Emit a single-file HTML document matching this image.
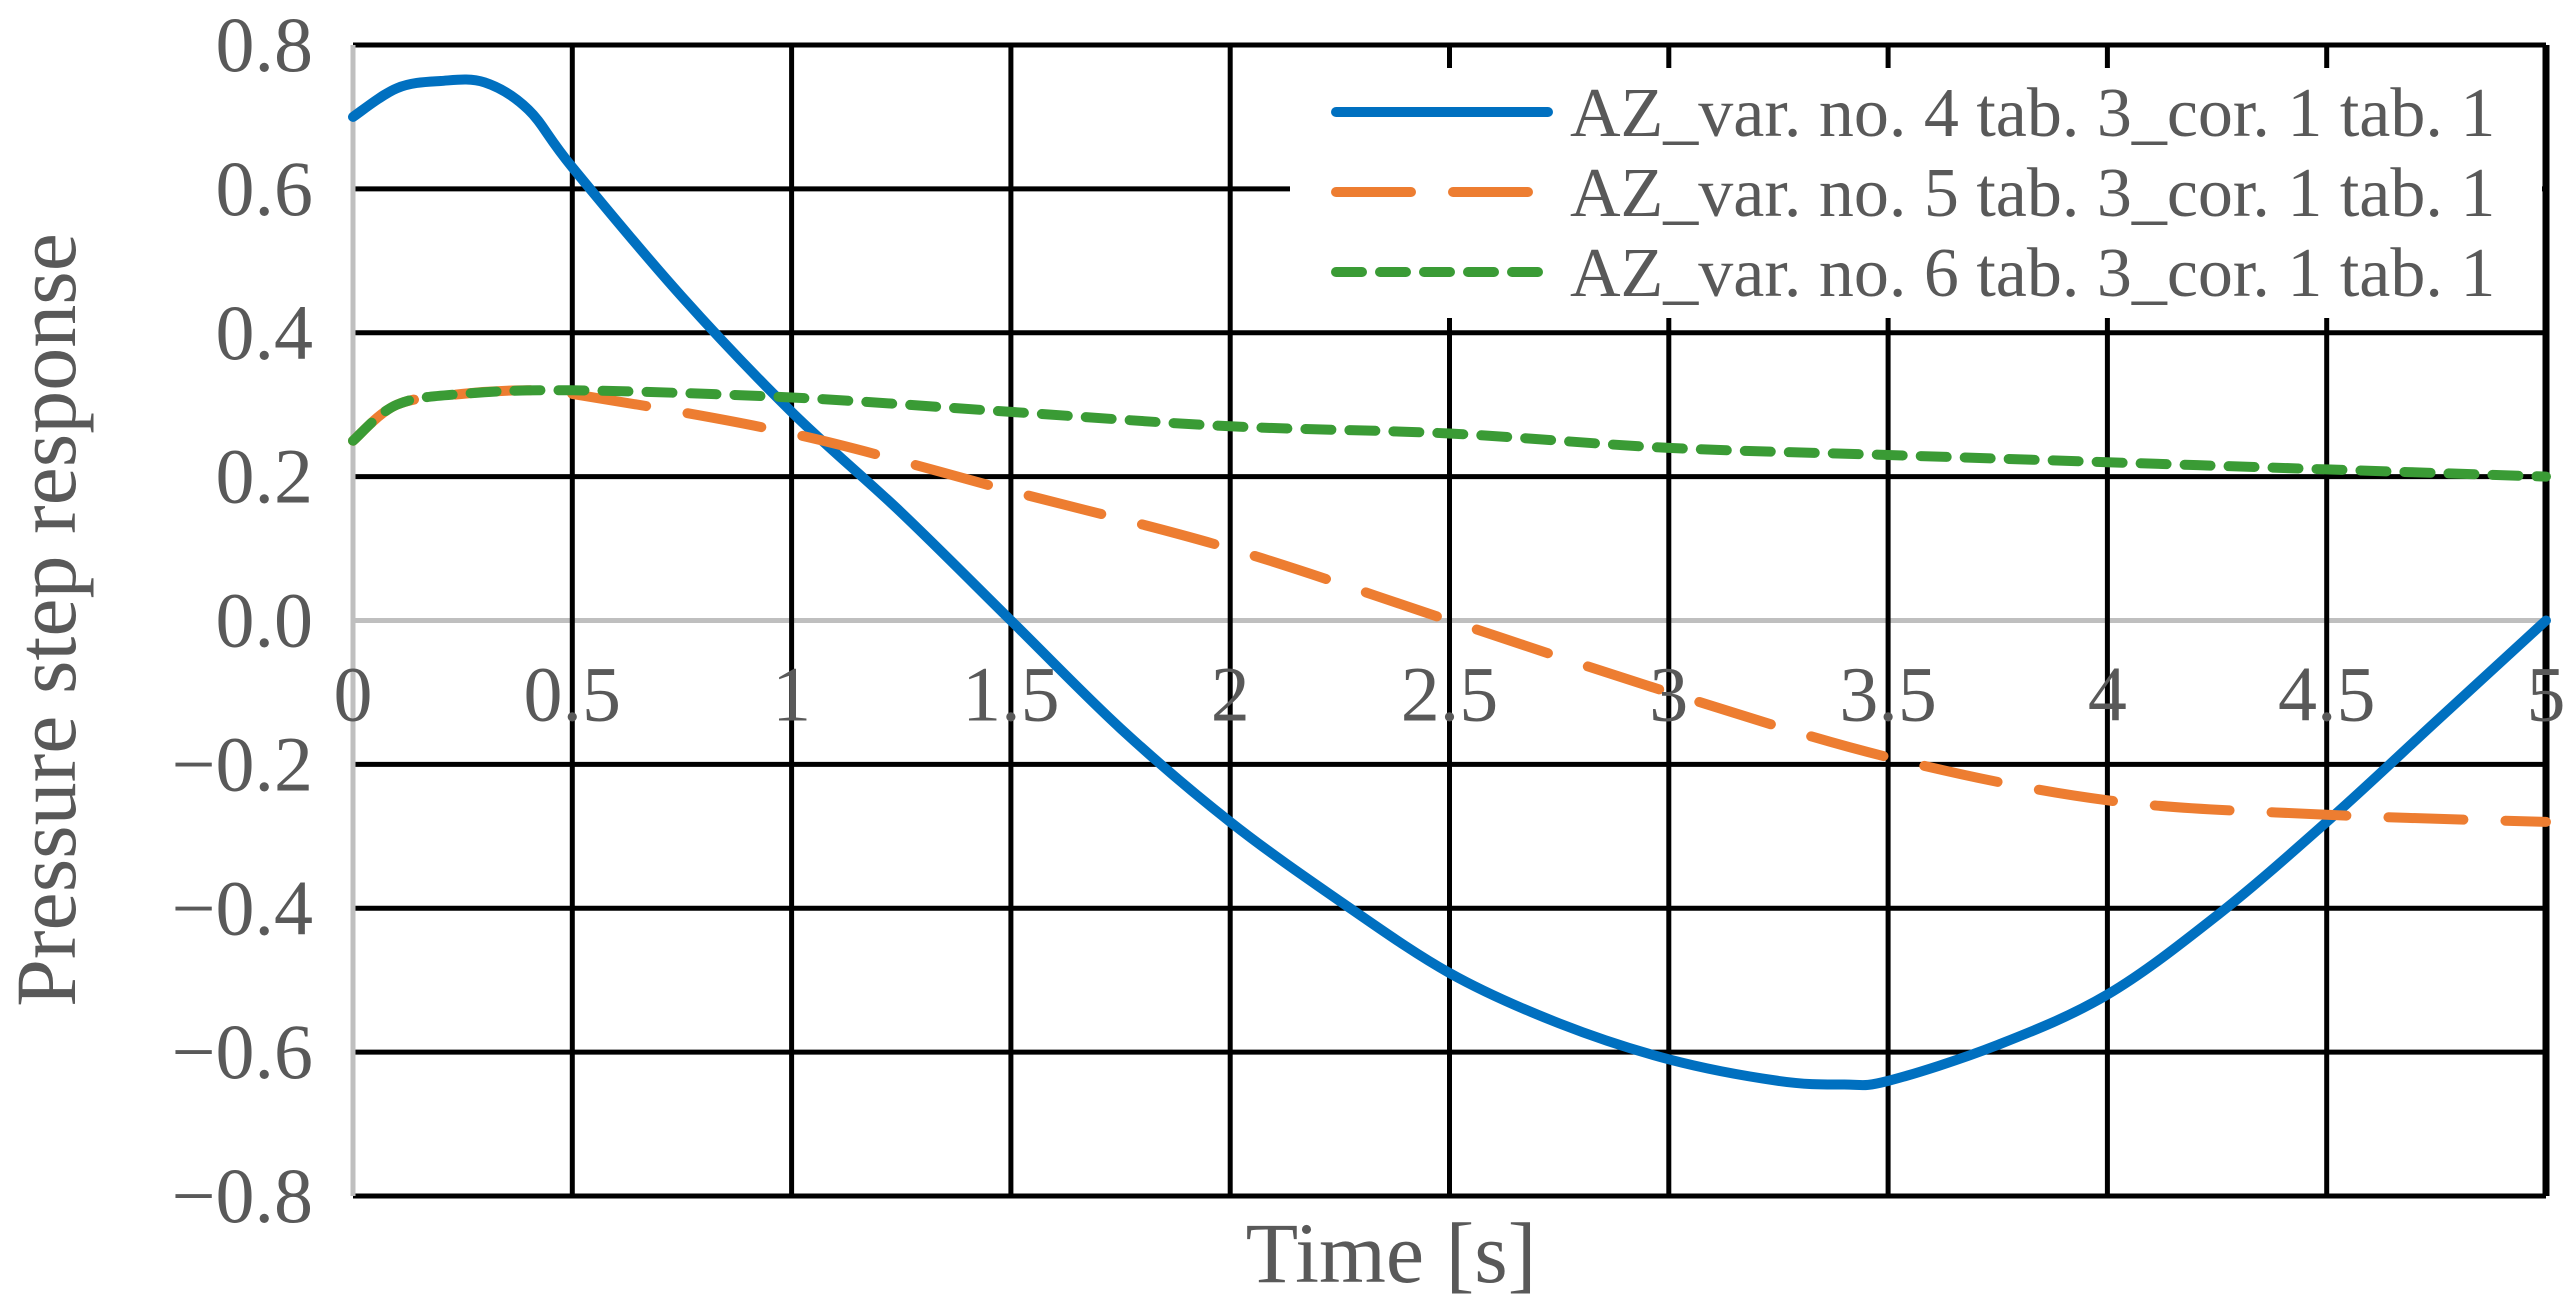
<!DOCTYPE html>
<html><head><meta charset="utf-8"><style>
html,body{margin:0;padding:0;background:#fff;}
svg{display:block;}
text{font-family:"Liberation Serif",serif;fill:#595959;}
</style></head><body>
<svg id="chart" width="2572" height="1311" viewBox="0 0 2572 1311">
<g id="grid"></g>
<g id="series"></g>
<g id="ticks"></g>
<g id="legend"></g>
<text transform="translate(75,620) rotate(-90)" text-anchor="middle" font-size="86">Pressure step response</text>
<text x="1391" y="1282" text-anchor="middle" font-size="86">Time [s]</text>
</svg>
<script>
const xTicks=[0,0.5,1,1.5,2,2.5,3,3.5,4,4.5,5];
const xTickLabels=["0","0.5","1","1.5","2","2.5","3","3.5","4","4.5","5"];
const yTicks=[0.8,0.6,0.4,0.2,0,-0.2,-0.4,-0.6,-0.8];
const yTickLabels=["0.8","0.6","0.4","0.2","0.0","\u22120.2","\u22120.4","\u22120.6","\u22120.8"];
const tBlue=[0,0.1,0.2,0.3,0.4,0.5,0.75,1,1.25,1.5,1.75,2,2.25,2.5,2.75,3,3.25,3.4,3.5,3.75,4,4.25,4.5,4.75,5];
const vBlue=[0.70,0.74,0.75,0.748,0.71,0.63,0.45,0.29,0.15,0.0,-0.15,-0.28,-0.39,-0.49,-0.56,-0.61,-0.64,-0.645,-0.64,-0.59,-0.52,-0.41,-0.28,-0.14,0.0];
const tOrange=[0,0.1,0.25,0.4,0.5,1,1.5,2,2.5,3,3.5,4,4.5,5];
const vOrange=[0.25,0.30,0.315,0.32,0.315,0.26,0.18,0.10,0.0,-0.10,-0.19,-0.25,-0.27,-0.28];
const tGreen=[0,0.1,0.25,0.5,1,1.5,2,2.5,3,3.5,4,4.5,5];
const vGreen=[0.25,0.30,0.315,0.32,0.31,0.29,0.27,0.26,0.24,0.23,0.22,0.21,0.20];
const seriesNames=["AZ_var. no. 4 tab. 3_cor. 1 tab. 1","AZ_var. no. 5 tab. 3_cor. 1 tab. 1","AZ_var. no. 6 tab. 3_cor. 1 tab. 1"];

const NS="http://www.w3.org/2000/svg";
const X0=353,X1=2546,YT=45,YB=1196,YMAX=0.8,YMIN=-0.8,XMAX=5;
const sx=v=>X0+(X1-X0)*v/XMAX;
const sy=v=>YT+(YB-YT)*(YMAX-v)/(YMAX-YMIN);
function mk(tag,attrs,parent){const e=document.createElementNS(NS,tag);for(const k in attrs)e.setAttribute(k,attrs[k]);parent.appendChild(e);return e;}
const grid=document.getElementById('grid'),ticks=document.getElementById('ticks'),ser=document.getElementById('series'),leg=document.getElementById('legend');

yTicks.forEach((v,i)=>{
  const l=mk('line',{x1:X0,x2:X1,y1:sy(v),y2:sy(v),stroke:v===0?'#bfbfbf':'#000','stroke-width':5},grid);
  
  
  const t=mk('text',{x:X0-40,y:sy(v)+26,'text-anchor':'end','font-size':78},ticks);
  t.textContent=yTickLabels[i];
  
  
});
xTicks.forEach((v,i)=>{
  const l=mk('line',{x1:sx(v),x2:sx(v),y1:YT,y2:YB,stroke:v===0?'#bfbfbf':'#000','stroke-width':v===5?7:5},grid);
  
  
  const t=mk('text',{x:sx(v),y:sy(0)+100,'text-anchor':'middle','font-size':78},ticks);
  t.textContent=xTickLabels[i];
  
  
});
function path(ts,vs){
  const P=ts.map((t,i)=>[sx(t),sy(vs[i])]);
  let d='M'+P[0][0].toFixed(1)+','+P[0][1].toFixed(1);
  for(let i=0;i<P.length-1;i++){
    const p0=P[Math.max(0,i-1)],p1=P[i],p2=P[i+1],p3=P[Math.min(P.length-1,i+2)];
    const c1=[p1[0]+(p2[0]-p0[0])/6,p1[1]+(p2[1]-p0[1])/6];
    const c2=[p2[0]-(p3[0]-p1[0])/6,p2[1]-(p3[1]-p1[1])/6];
    d+=' C'+c1[0].toFixed(1)+','+c1[1].toFixed(1)+' '+c2[0].toFixed(1)+','+c2[1].toFixed(1)+' '+p2[0].toFixed(1)+','+p2[1].toFixed(1);
  }
  return d;
}
const styles=[
  {c:'#0070c0',d:''},
  {c:'#ed7d31',d:'75 42'},
  {c:'#3a9b35',d:'26 18'}
];
const data=[[tBlue,vBlue],[tOrange,vOrange],[tGreen,vGreen]];
const names=['series-var4','series-var5','series-var6'];
[0,1,2].forEach(i=>{
  const p=mk('path',{d:path(data[i][0],data[i][1]),fill:'none',stroke:styles[i].c,'stroke-width':10,'stroke-linecap':'round','stroke-linejoin':'round'},ser);
  if(styles[i].d)p.setAttribute('stroke-dasharray',styles[i].d);
  
  
});
const bg=mk('rect',{x:1290,y:68,width:1252,height:250,fill:'#fff'},leg);


leg.parentNode.insertBefore(leg,document.getElementById('ticks'));
[0,1,2].forEach(i=>{
  const y=112+i*80;
  const g=mk('g',{},leg);
  
  
  const l=mk('line',{x1:1336,x2:1548,y1:y,y2:y,stroke:styles[i].c,'stroke-width':10,'stroke-linecap':'round'},g);
  if(styles[i].d)l.setAttribute('stroke-dasharray',styles[i].d);
  
  
  const t=mk('text',{x:1570,y:y+24,'font-size':70},g);
  t.textContent=seriesNames[i];
  
  
});
</script>
</body></html>
